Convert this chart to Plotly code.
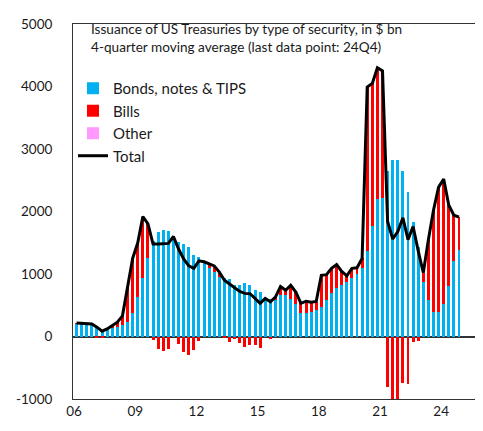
import plotly.graph_objects as go

# ---- data, quarterly 2006Q1 .. 2024Q4 ----
years = list(range(2006, 2025))
quarters = [f"{y}Q{q}" for y in years for q in (1, 2, 3, 4)]

bonds = [200, 200, 195, 195, 165, 100, 110, 130, 150, 180, 230, 380, 640, 940, 1260, 1530,
         1680, 1710, 1690, 1600, 1520, 1480, 1430, 1300, 1280, 1180, 1100, 1030, 960, 930, 920, 820,
         830, 850, 825, 740, 710, 610, 595, 590, 660, 660, 600, 520, 380, 370, 385, 420,
         470, 580, 700, 780, 830, 880, 930, 1000, 1100, 1370, 1770, 2200, 2220, 2650, 2820, 2820,
         2650, 2310, 1840, 1440, 870, 580, 395, 395, 525, 815, 1210, 1390]

bills = [15, 10, 10, 5, -15, -15, 10, 40, 80, 150, 570, 870, 860, 980, 540, -50,
         -200, -230, -200, 0, -120, -240, -300, -210, -70, 15, 60, 100, 70, -30, -80, -40,
         -110, -160, -140, -130, -180, 0, -40, 40, 140, 80, 220, 190, 150, 195, 165, 140,
         510, 410, 390, 370, 210, 90, 160, 100, 150, 2620, 2280, 2100, 2030, -810, -1260, -1140,
         -750, -760, -80, -70, 150, 970, 1625, 1995, 1995, 1285, 730, 520]

other = [0] * 76

total = [215, 210, 205, 200, 150, 85, 120, 170, 230, 330, 800, 1250, 1500, 1920, 1800, 1480,
         1480, 1480, 1490, 1600, 1400, 1240, 1130, 1090, 1210, 1195, 1160, 1130, 1030, 900, 840, 780,
         720, 690, 685, 610, 530, 610, 555, 630, 800, 740, 820, 710, 530, 565, 550, 560,
         980, 990, 1090, 1150, 1040, 970, 1090, 1100, 1250, 3990, 4050, 4300, 4250, 1840, 1560, 1680,
         1900, 1550, 1760, 1370, 1020, 1550, 2020, 2390, 2520, 2100, 1940, 1910]

tick_years = [2006, 2009, 2012, 2015, 2018, 2021, 2024]
tick_labels = ["06", "09", "12", "15", "18", "21", "24"]
y_ticks = [-1000, 0, 1000, 2000, 3000, 4000, 5000]
y_tick_labels = ["-1000", "0", "1000", "2000", "3000", "4000", "5000"]

title_lines = ["Issuance of US Treasuries by type of security, in $ bn",
               "4-quarter moving average (last data point: 24Q4)"]

# mid-quarter positions on a time axis (years)
xpos = [int(s[:4]) + (int(s[-1]) - 0.5) / 4 for s in quarters]

FONT = "Lato, 'Open Sans', sans-serif"
BLUE = "#00B0F0"
RED = "#FF0000"
PINK = "#FF99FF"
TXT = "#1a1a1a"

# page body has an 8px margin; plot area should sit at x 69..475, y 16..399 in the window
W, H = 483, 431
ML, MT = 69 - 8, 16 - 8
MR = 8 + W - 475
MB = 8 + H - 399
PH = H - MT - MB
PW = W - ML - MR


def py(px):  # window pixel y -> paper y
    return 1 - (px - 16) / PH


def pxx(px):  # window pixel x -> paper x
    return (px - 69) / PW


fig = go.Figure()
fig.add_trace(go.Bar(x=xpos, y=bonds, name="Bonds, notes & TIPS", marker_color=BLUE,
                     marker_line_width=0, width=0.145, legendgroup="a"))
fig.add_trace(go.Bar(x=xpos, y=bills, name="Bills", marker_color=RED,
                     marker_line_width=0, width=0.145, legendgroup="b"))
fig.add_trace(go.Bar(x=xpos, y=other, name="Other", marker_color=PINK,
                     marker_line_width=0, width=0.145, legendgroup="c"))
fig.add_trace(go.Scatter(x=xpos, y=total, name="Total", mode="lines",
                         line=dict(color="black", width=3), legendgroup="d"))

fig.update_layout(
    width=W, height=H,
    margin=dict(l=ML, r=MR, t=MT, b=MB),
    paper_bgcolor="white", plot_bgcolor="white",
    barmode="relative", bargap=0,
    font=dict(family=FONT, size=13, color=TXT),
    showlegend=True,
    legend=dict(x=pxx(69), y=py(65), xanchor="left", yanchor="top",
                traceorder="normal", tracegroupgap=3.5,
                font=dict(family=FONT, size=15, color=TXT),
                bgcolor="rgba(0,0,0,0)", itemwidth=30),
    annotations=[dict(
        x=pxx(86), y=py(30.5), xref="paper", yref="paper",
        xanchor="left", yanchor="middle", align="left", showarrow=False,
        text="<br>".join(title_lines), borderpad=0,
        font=dict(family=FONT, size=13.6, color=TXT))],
)
fig.update_xaxes(range=[2005.95, 2025.66], tickvals=tick_years, ticktext=tick_labels,
                 showgrid=False, zeroline=False, showline=True, linecolor="#333333",
                 linewidth=1, mirror=True, ticks="", tickfont=dict(size=13.5))
fig.update_yaxes(range=[-1000, 5000], tickvals=y_ticks, ticktext=y_tick_labels,
                 showgrid=False, zeroline=True, zerolinecolor="#333333", zerolinewidth=1.5,
                 showline=True, linecolor="#333333", linewidth=1, mirror=True,
                 ticks="", tickfont=dict(size=13.5), ticklabelstandoff=17)

fig.write_html("out.html")
